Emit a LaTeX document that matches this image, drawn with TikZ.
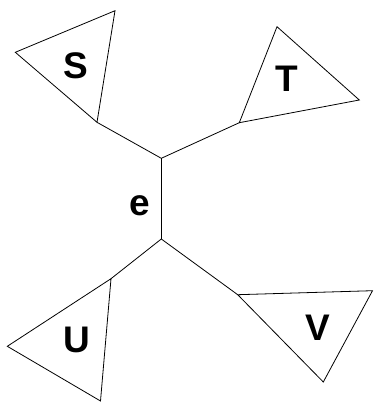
\documentclass[tikz,border=0pt]{standalone}
\usepackage{fontspec}
\setmainfont{Liberation Sans}
\begin{document}
\begin{tikzpicture}[x=1pt,y=-1pt,
  edge/.style={draw=black,line width=0.8pt,line join=miter},
  lab/.style={inner sep=0pt,font=\fontsize{37}{40}\selectfont\bfseries}]
\useasboundingbox (0,0) rectangle (373,404);
% internal vertices
\coordinate (top) at (161.3,158.3);
\coordinate (bot) at (161.3,239);
% S subtree
\coordinate (s1) at (97,122.3);
\coordinate (s2) at (15.3,52.3);
\coordinate (s3) at (115,10.7);
% T subtree
\coordinate (t1) at (239.3,122.7);
\coordinate (t2) at (277,26.7);
\coordinate (t3) at (359.3,100);
% U subtree
\coordinate (u1) at (111,278.7);
\coordinate (u2) at (7.3,346.3);
\coordinate (u3) at (100.5,401);
% V subtree
\coordinate (v1) at (237.7,294.7);
\coordinate (v2) at (323.3,382);
\coordinate (v3) at (372.5,290.7);
\draw[edge] (top) -- (bot);
\draw[edge] (top) -- (s1);
\draw[edge] (top) -- (t1);
\draw[edge] (bot) -- (u1);
\draw[edge] (bot) -- (v1);
\draw[edge] (s1) -- (s2) -- (s3) -- cycle;
\draw[edge] (t1) -- (t2) -- (t3) -- cycle;
\draw[edge] (u1) -- (u2) -- (u3) -- cycle;
\draw[edge] (v1) -- (v2) -- (v3) -- cycle;
\node[lab] (S) at (76,66) {S};
\node[lab] (T) at (287,79) {T};
\node[lab] (e) at (140,206) {e};
\node[lab] (U) at (76.5,340) {U};
\node[lab] (V) at (318,327.5) {V};
\end{tikzpicture}
\end{document}
